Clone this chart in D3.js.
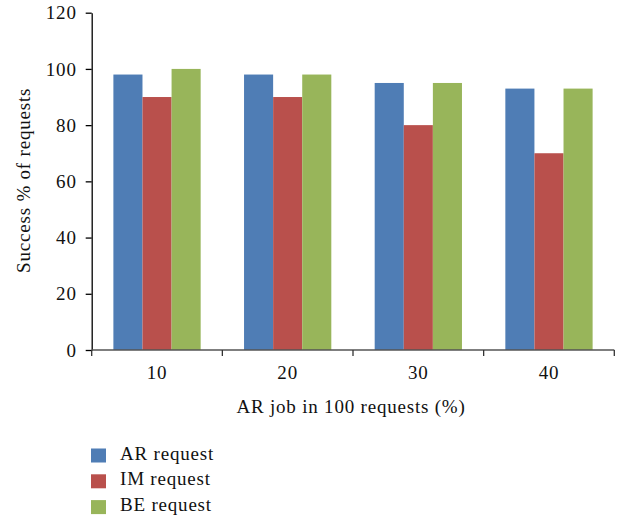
<!DOCTYPE html>
<html>
<head>
<meta charset="utf-8">
<script src="https://cdn.jsdelivr.net/npm/d3@7"></script>
<style>
  html, body { margin: 0; padding: 0; background: #fff; }
  svg { display: block; }
  text { font-family: "Liberation Serif", "DejaVu Serif", serif; fill: #111; letter-spacing: 0.8px; }
</style>
</head>
<body>
<div id="chart"></div>
<script>
// Success rate of requests by share of AR jobs
const categories = ["10", "20", "30", "40"];
const seriesNames = ["AR request", "IM request", "BE request"];
const arValues = [98, 98, 95, 93];
const imValues = [90, 90, 80, 70];
const beValues = [100, 98, 95, 93];
const yTicks = [0, 20, 40, 60, 80, 100, 120];
const colors = ["#4F7DB5", "#B9504C", "#98B55A"];

const seriesValues = [arValues, imValues, beValues];
const rows = categories.map((c, i) => ({
  category: c,
  values: seriesNames.map((s, j) => ({ series: s, value: seriesValues[j][i], idx: j }))
}));

const width = 622, height = 522;
const fontSize = 19;
const svg = d3.select("#chart").append("svg")
  .attr("width", width).attr("height", height);

const plotLeft = 91.7, plotRight = 614.3, plotTop = 12.7, plotBottom = 350;

const x0 = d3.scaleBand().domain(categories).range([plotLeft, plotRight]).padding(0);
const x1 = d3.scaleBand().domain(seriesNames)
  .range([x0.bandwidth() * 0.166, x0.bandwidth() * 0.834]).padding(0);
const y = d3.scaleLinear().domain([0, 120]).range([plotBottom, plotTop]);

// bars
const groups = svg.append("g").selectAll("g").data(rows).join("g")
  .attr("transform", d => `translate(${x0(d.category)},0)`);
groups.selectAll("rect").data(d => d.values).join("rect")
  .attr("x", d => x1(d.series))
  .attr("y", d => y(d.value))
  .attr("width", x1.bandwidth())
  .attr("height", d => y(0) - y(d.value))
  .attr("fill", d => colors[d.idx]);

// y axis
const yAxis = svg.append("g")
  .attr("transform", `translate(${plotLeft},0)`)
  .call(d3.axisLeft(y).tickValues(yTicks).tickSize(6).tickPadding(9).tickSizeOuter(0));
yAxis.select(".domain").attr("stroke", "#000").attr("stroke-width", 1.3);
yAxis.selectAll(".tick line").attr("stroke", "#000").attr("stroke-width", 1.3);
yAxis.selectAll(".tick text")
  .style("font-family", "'Liberation Serif', serif")
  .attr("font-size", fontSize).attr("fill", "#111");

// x axis with ticks on band boundaries
const xAxisG = svg.append("g").attr("transform", `translate(0,${plotBottom})`);
xAxisG.append("line")
  .attr("x1", plotLeft).attr("x2", plotRight)
  .attr("stroke", "#555").attr("stroke-width", 1.5);
const boundaries = categories.map(c => x0(c)).concat([x0(categories[categories.length - 1]) + x0.bandwidth()]);
xAxisG.selectAll("line.tk").data(boundaries).join("line")
  .attr("class", "tk")
  .attr("x1", d => d).attr("x2", d => d)
  .attr("y1", 0).attr("y2", 6)
  .attr("stroke", "#333").attr("stroke-width", 1.3);
xAxisG.selectAll("text").data(categories).join("text")
  .attr("x", d => x0(d) + x0.bandwidth() / 2)
  .attr("y", 28.5)
  .attr("text-anchor", "middle")
  .attr("font-size", fontSize)
  .text(d => d);

// axis titles
svg.append("text")
  .attr("x", 351)
  .attr("y", 413)
  .attr("text-anchor", "middle")
  .attr("font-size", fontSize)
  .text("AR job in 100 requests (%)");

svg.append("text")
  .attr("transform", `translate(30,${(plotTop + plotBottom) / 2 - 1}) rotate(-90)`)
  .attr("text-anchor", "middle")
  .attr("font-size", fontSize)
  .text("Success % of requests");

// legend
const legend = svg.append("g").attr("transform", "translate(91,448.5)");
const items = legend.selectAll("g").data(seriesNames).join("g")
  .attr("transform", (d, i) => `translate(0,${i * 25.8})`);
items.append("rect")
  .attr("width", 15).attr("height", 14)
  .attr("fill", (d, i) => colors[i]);
items.append("text")
  .attr("x", 29).attr("y", 11)
  .attr("font-size", fontSize)
  .text(d => d);
</script>
</body>
</html>
